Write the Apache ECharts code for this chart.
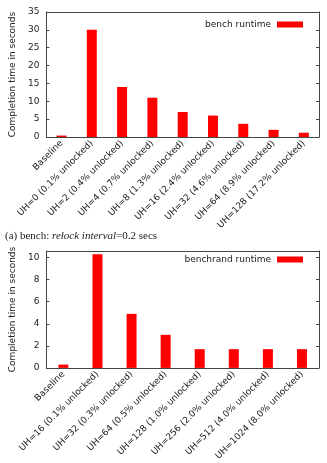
<!DOCTYPE html>
<html>
<head>
<meta charset="utf-8">
<script src="https://cdn.jsdelivr.net/npm/echarts@6/dist/echarts.min.js"></script>
<style>
  html, body { margin: 0; padding: 0; background: #fff; }
  #chart { width: 327px; height: 463px; }
</style>
</head>
<body>
<div id="chart"></div>
<script>
  const benchCategories = [
    "Baseline",
    "UH=0 (0.1% unlocked)",
    "UH=2 (0.4% unlocked)",
    "UH=4 (0.7% unlocked)",
    "UH=8 (1.3% unlocked)",
    "UH=16 (2.4% unlocked)",
    "UH=32 (4.6% unlocked)",
    "UH=64 (8.9% unlocked)",
    "UH=128 (17.2% unlocked)",
  ];
  const benchRuntime = [0.4, 30, 14, 11, 7, 6, 3.7, 2, 1.2];

  const randCategories = [
    "Baseline",
    "UH=16 (0.1% unlocked)",
    "UH=32 (0.3% unlocked)",
    "UH=64 (0.5% unlocked)",
    "UH=128 (1.0% unlocked)",
    "UH=256 (2.0% unlocked)",
    "UH=512 (4.0% unlocked)",
    "UH=1024 (8.0% unlocked)",
  ];
  const randRuntime = [0.3, 10.3, 4.9, 3.0, 1.7, 1.7, 1.7, 1.7];

  const font = "DejaVu Sans";
  const fontSize = 9;
  const axisColor = "#444";
  const textColor = "#222";

  function xAxisFor(gridIndex, cats, position) {
    return {
      type: "category",
      gridIndex,
      data: cats,
      position,
      axisLine: { onZero: false, lineStyle: { color: axisColor } },
      axisTick: { alignWithLabel: true, inside: true, length: 3, lineStyle: { color: axisColor } },
      axisLabel: position === "bottom"
        ? { rotate: 45, margin: 5, interval: 0, color: textColor, fontFamily: font, fontSize }
        : { show: false },
    };
  }

  function yAxisFor(gridIndex, max, interval, position) {
    const left = position === "left";
    return {
      type: "value",
      gridIndex,
      min: 0,
      max,
      interval,
      position,
      name: left ? "Completion time in seconds" : "",
      nameLocation: "middle",
      nameGap: 29,
      nameTextStyle: { color: textColor, fontFamily: font, fontSize },
      splitLine: { show: false },
      axisLine: { show: true, onZero: false, lineStyle: { color: axisColor } },
      axisTick: { show: true, inside: true, length: 3, lineStyle: { color: axisColor } },
      axisLabel: left
        ? { margin: 7, showMaxLabel: max % interval === 0, color: textColor, fontFamily: font, fontSize }
        : { show: false },
    };
  }

  function legendFor(name, top) {
    return {
      data: [name],
      right: 19,
      top,
      align: "right",
      itemWidth: 26,
      itemHeight: 6,
      icon: "rect",
      textStyle: { color: textColor, fontFamily: font, fontSize, padding: [0, 1, 0, 0] },
    };
  }

  const chart = echarts.init(document.getElementById("chart"));
  chart.setOption({
    animation: false,
    backgroundColor: "#fff",
    grid: [
      { left: 43, right: 8, top: 12, height: 125 },
      { left: 43, right: 8, top: 251, height: 118 },
    ],
    legend: [legendFor("bench runtime", 15), legendFor("benchrand runtime", 250)],
    xAxis: [
      xAxisFor(0, benchCategories, "bottom"),
      xAxisFor(0, benchCategories, "top"),
      xAxisFor(1, randCategories, "bottom"),
      xAxisFor(1, randCategories, "top"),
    ],
    yAxis: [
      yAxisFor(0, 35, 5, "left"),
      yAxisFor(0, 35, 5, "right"),
      yAxisFor(1, 10.6, 2, "left"),
      yAxisFor(1, 10.6, 2, "right"),
    ],
    series: [
      {
        name: "bench runtime",
        type: "bar",
        xAxisIndex: 0,
        yAxisIndex: 0,
        data: benchRuntime,
        barWidth: 10,
        itemStyle: { color: "#ff0000" },
      },
      {
        name: "benchrand runtime",
        type: "bar",
        xAxisIndex: 2,
        yAxisIndex: 2,
        data: randRuntime,
        barWidth: 10,
        itemStyle: { color: "#ff0000" },
      },
    ],
    graphic: [
      {
        type: "text",
        left: 5,
        top: 231,
        style: {
          text: "{n|(a) bench: }{i|relock interval}{n|=0.2 secs}",
          rich: {
            n: { fontFamily: "Liberation Serif", fontSize: 11, fill: textColor },
            i: { fontFamily: "Liberation Serif", fontStyle: "italic", fontSize: 11, fill: textColor },
          },
        },
      },
    ],
  });
</script>
</body>
</html>
